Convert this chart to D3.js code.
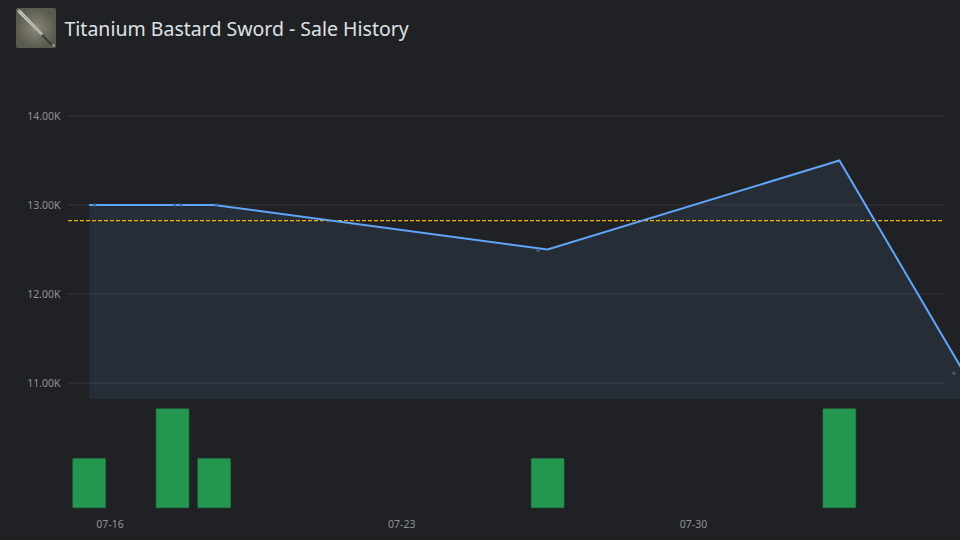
<!DOCTYPE html>
<html>
<head>
<meta charset="utf-8">
<script src="https://cdn.jsdelivr.net/npm/d3@7"></script>
<style>
html, body { margin: 0; padding: 0; background: #202125; }
svg { display: block; }
text { font-family: "Noto Sans", sans-serif; }
.title { font-size: 19.5px; fill: #dfe1e5; }
.tick-label { font-size: 10.5px; fill: #8f9198; }
</style>
</head>
<body>
<div id="chart"></div>
<script>
var svgWidth = 960;
var svgHeight = 540;

var titleText = "Titanium Bastard Sword - Sale History";

// daily average price, days counted from 07-16
var lineDays = [-0.5, 1.5, 2.5, 10.5, 17.5, 20.5];
var linePrices = [13000, 13000, 13000, 12500, 13500, 11110];

// sale count per day
var barDays = [-0.5, 1.5, 2.5, 10.5, 17.5];
var barCounts = [1, 2, 1, 1, 2];

// individual sales
var saleDays = [-0.37, 1.55, 1.7, 2.55, 10.27, 20.25];
var salePrices = [13000, 13000, 13000, 13000, 12490, 11110];

var averagePrice = 12825;
var priceTicks = [11000, 12000, 13000, 14000];
var dateTicks = [0, 7, 14];
var dateLabels = ["07-16", "07-23", "07-30"];

var xScale = d3.scaleLinear().domain([0, 14]).range([110, 693.5]);
var yScale = d3.scaleLinear().domain([11000, 14000]).range([383, 116]);
var countScale = d3.scaleLinear().domain([0, 2]).range([508, 408.5]);
var barWidth = (xScale(1) - xScale(0)) * 0.8;

var svg = d3.select("#chart")
    .append("svg")
    .attr("width", svgWidth)
    .attr("height", svgHeight)
    .style("background", "#202125");

var defs = svg.append("defs");
var tile = defs.append("radialGradient").attr("id", "tile");
tile.append("stop").attr("offset", "0%").attr("stop-color", "#8a897a");
tile.append("stop").attr("offset", "100%").attr("stop-color", "#5a5a4e");

// Item icon
var icon = svg.append("g").attr("transform", "translate(16, 8)");
icon.append("rect")
    .attr("width", 40).attr("height", 40).attr("rx", 2)
    .attr("fill", "url(#tile)");
icon.append("path")
    .attr("d", "M1.5,1.5 L5,2.5 L27,26 L25.5,27.5 L2.5,5 Z")
    .attr("fill", "#cfcfca");
icon.append("path")
    .attr("d", "M2.5,2.5 L26,26.5")
    .attr("stroke", "#7b7b73")
    .attr("stroke-width", 0.7);
icon.append("path")
    .attr("d", "M23,32 L32,24")
    .attr("stroke", "#66675f")
    .attr("stroke-width", 2.2);
icon.append("path")
    .attr("d", "M26,27 L37,38")
    .attr("stroke", "#3a3b35")
    .attr("stroke-width", 2);
icon.append("circle")
    .attr("cx", 37.5).attr("cy", 37.5).attr("r", 1.3)
    .attr("fill", "#a5a59d");

svg.append("text")
    .attr("class", "title")
    .attr("x", 64.5)
    .attr("y", 36)
    .text(titleText);

// Grid lines + price labels
svg.append("g").selectAll("line")
    .data(priceTicks)
    .enter()
    .append("line")
    .attr("x1", 68)
    .attr("x2", 944)
    .attr("y1", d => yScale(d))
    .attr("y2", d => yScale(d))
    .attr("stroke", "#292b30")
    .attr("stroke-width", 2);

svg.append("g").selectAll("text")
    .data(priceTicks)
    .enter()
    .append("text")
    .attr("class", "tick-label")
    .attr("x", 60.5)
    .attr("y", d => yScale(d) + 3.5)
    .attr("text-anchor", "end")
    .text(d => (d / 1000).toFixed(2) + "K");

// Date labels
svg.append("g").selectAll("text")
    .data(dateTicks)
    .enter()
    .append("text")
    .attr("class", "tick-label")
    .attr("x", d => xScale(d))
    .attr("y", 528)
    .attr("text-anchor", "middle")
    .text((d, i) => dateLabels[i]);

// Area under the price line
var points = lineDays.map((d, i) => [d, linePrices[i]]);
var area = d3.area()
    .x(d => xScale(d[0]))
    .y0(399)
    .y1(d => yScale(d[1]));
svg.append("path")
    .attr("d", area(points))
    .attr("fill", "#66aaf0")
    .attr("fill-opacity", 0.085);

// Average price
svg.append("line")
    .attr("x1", 68)
    .attr("x2", 944)
    .attr("y1", yScale(averagePrice))
    .attr("y2", yScale(averagePrice))
    .attr("stroke", "#eab308")
    .attr("stroke-width", 1.4)
    .attr("stroke-dasharray", "4 2");

var line = d3.line()
    .x(d => xScale(d[0]))
    .y(d => yScale(d[1]));
svg.append("path")
    .attr("d", line(points))
    .attr("fill", "none")
    .attr("stroke", "#60a5fa")
    .attr("stroke-width", 2);

// Individual sales
svg.append("g").selectAll("circle")
    .data(saleDays)
    .enter()
    .append("circle")
    .attr("cx", d => xScale(d))
    .attr("cy", (d, i) => yScale(salePrices[i]))
    .attr("r", 1.8)
    .attr("fill", "#3a6497")
    .attr("fill-opacity", 0.8);

// Sale count bars
svg.append("g").selectAll("rect")
    .data(barDays)
    .enter()
    .append("rect")
    .attr("x", d => xScale(d) - barWidth / 2 + 0.25)
    .attr("y", (d, i) => countScale(barCounts[i]) + 0.25)
    .attr("width", barWidth - 0.5)
    .attr("height", (d, i) => countScale(0) - countScale(barCounts[i]) - 0.5)
    .attr("rx", 0.5)
    .attr("fill", "#23964f")
    .attr("stroke", "#1f8347")
    .attr("stroke-width", 0.5);
</script>
</body>
</html>
